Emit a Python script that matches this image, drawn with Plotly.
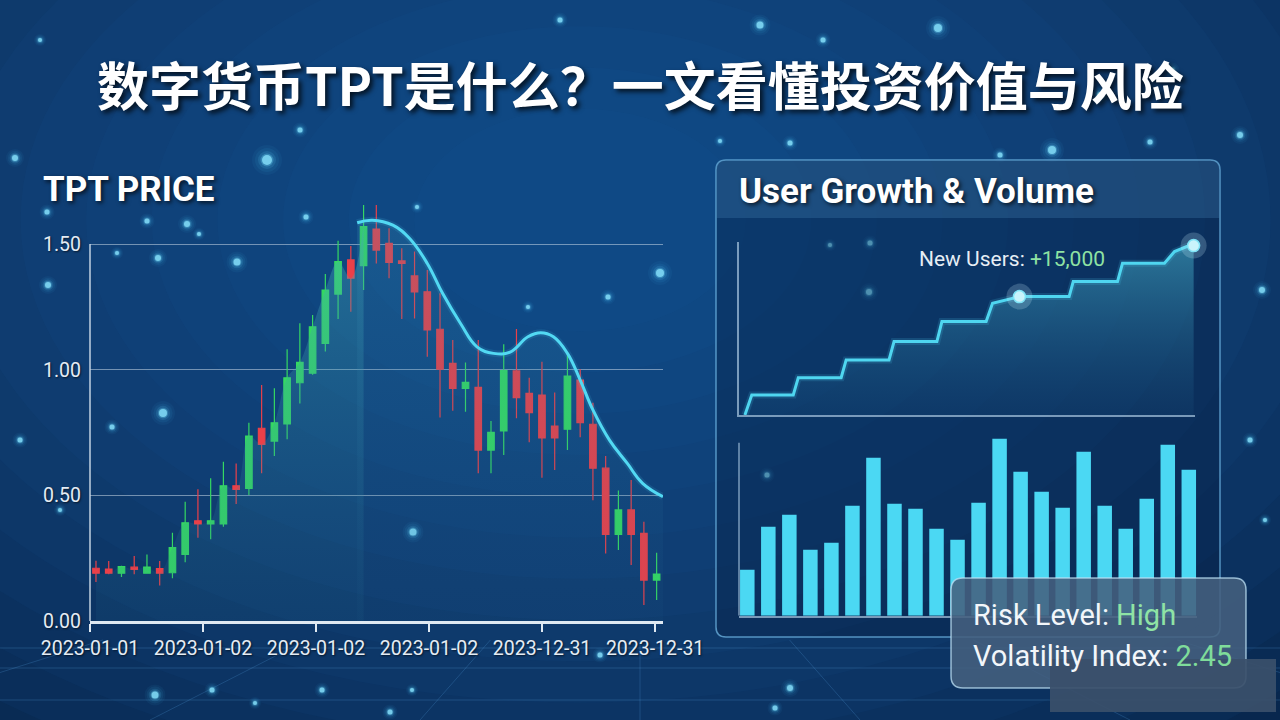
import plotly.graph_objects as go

W, H = 1280, 720

# ---------------- data ----------------
candle_idx = list(range(1, 46))
price_open = [0.210, 0.207, 0.190, 0.214, 0.190, 0.209, 0.192, 0.265, 0.399, 0.386,
              0.386, 0.538, 0.528, 0.767, 0.716, 0.784, 0.948, 0.986, 1.105, 1.301,
              1.437, 1.414, 1.560, 1.503, 1.433, 1.373, 1.310, 1.161, 1.025, 0.926,
              0.930, 0.680, 0.756, 0.995, 0.906, 0.899, 0.776, 0.763, 0.959, 0.783,
              0.608, 0.345, 0.442, 0.349, 0.163]
price_high = [0.240, 0.239, 0.220, 0.259, 0.265, 0.239, 0.351, 0.475, 0.524, 0.568,
              0.634, 0.627, 0.789, 0.939, 0.926, 1.081, 1.185, 1.218, 1.381, 1.513,
              1.492, 1.655, 1.655, 1.563, 1.483, 1.470, 1.397, 1.304, 1.118, 1.029,
              1.118, 0.796, 1.101, 1.162, 0.968, 1.032, 0.909, 1.065, 1.002, 0.869,
              0.657, 0.519, 0.561, 0.395, 0.272]
price_low = [0.155, 0.186, 0.175, 0.186, 0.188, 0.141, 0.170, 0.234, 0.331, 0.325,
             0.375, 0.466, 0.501, 0.588, 0.657, 0.723, 0.866, 0.980, 1.072, 1.202,
             1.231, 1.317, 1.423, 1.364, 1.202, 1.204, 1.052, 0.810, 0.837, 0.833,
             0.588, 0.588, 0.661, 0.807, 0.711, 0.570, 0.601, 0.680, 0.731, 0.481,
             0.269, 0.283, 0.223, 0.064, 0.084]
price_close = [0.190, 0.190, 0.216, 0.205, 0.214, 0.190, 0.292, 0.391, 0.386, 0.399,
               0.538, 0.524, 0.736, 0.703, 0.789, 0.968, 1.029, 1.171, 1.317, 1.430,
               1.364, 1.569, 1.476, 1.427, 1.423, 1.310, 1.158, 1.002, 0.926, 0.950,
               0.680, 0.751, 0.996, 0.889, 0.829, 0.729, 0.729, 0.975, 0.789, 0.608,
               0.345, 0.442, 0.345, 0.163, 0.187]

date_tick_pos = [0.53, 9.40, 18.27, 27.14, 36.01, 44.88]
date_tick_labels = ["2023-01-01", "2023-01-02", "2023-01-02", "2023-01-02",
                    "2023-12-31", "2023-12-31"]
price_ticks = [0.0, 0.5, 1.0, 1.5]

trend_idx = [21.5, 22.7, 24.3, 25.6, 27.0, 28.2, 29.6, 30.9, 32.2, 33.5,
             34.9, 35.9, 36.9, 38.0, 39.0, 40.0, 41.3, 42.7, 43.9, 45.5]
trend_val = [1.585, 1.595, 1.575, 1.523, 1.423, 1.304, 1.185, 1.091, 1.065, 1.070,
             1.131, 1.147, 1.131, 1.065, 0.959, 0.840, 0.720, 0.627, 0.548, 0.495]

user_t = [0.13, 0.28, 1.19, 1.30, 2.24, 2.35, 3.29, 3.40, 4.34, 4.45, 5.42,
          5.56, 6.15, 7.24, 7.33, 8.30, 8.41, 9.33, 9.55, 9.82, 9.97]
users_k = [0.00, 1.77, 1.77, 3.30, 3.30, 4.87, 4.87, 6.49, 6.49, 8.26, 8.26,
           9.88, 10.47, 10.47, 11.80, 11.80, 13.42, 13.42, 14.45, 14.90, 14.98]
user_highlight = [12, 20]

volume_idx = list(range(1, 23))
volume = [4.6, 8.9, 10.1, 6.6, 7.3, 11.0, 15.8, 11.2, 10.7, 8.7, 7.6,
          11.3, 17.7, 14.4, 12.4, 10.8, 16.4, 11.0, 8.7, 11.7, 17.1, 14.6]

# decorative bokeh dots (x px, y px, radius px)
bokeh = [(267, 160, 5), (15, 158, 3), (47, 212, 2.5), (147, 221, 2.5), (187, 224, 3),
         (199, 234, 2), (117, 253, 2), (158, 258, 3), (237, 262, 3.5), (306, 217, 2.5),
         (48, 285, 3), (163, 413, 4), (112, 427, 2.5), (660, 273, 4), (608, 297, 2.5),
         (528, 307, 2), (413, 532, 3.5), (417, 207, 2), (830, 245, 2), (870, 243, 2.5),
         (869, 292, 3), (767, 475, 2.5), (760, 25, 3.5), (823, 40, 2.5), (938, 28, 4),
         (1100, 95, 3), (1172, 70, 2.5), (1240, 135, 3), (1150, 142, 2.5), (1052, 150, 4),
         (1000, 155, 2.5), (790, 143, 2.5), (720, 141, 2), (20, 440, 2.5), (60, 510, 2),
         (1262, 290, 3), (1250, 440, 2.5), (1265, 520, 2), (790, 688, 3), (775, 708, 2.5),
         (155, 695, 3.5), (212, 690, 2.5), (255, 703, 2), (322, 690, 2.5), (412, 690, 2),
         (390, 712, 2.5), (300, 130, 2.5), (560, 20, 2.5), (40, 40, 2), (600, 655, 2.5)]

# ---------------- helpers ----------------
def px(x):
    return x / W


def py(y):
    return 1 - y / H


def rrect(x0, y0, x1, y1, r, bottom_round=True):
    p = f"M{px(x0 + r)},{py(y0)} L{px(x1 - r)},{py(y0)} Q{px(x1)},{py(y0)} {px(x1)},{py(y0 + r)} "
    if bottom_round:
        p += f"L{px(x1)},{py(y1 - r)} Q{px(x1)},{py(y1)} {px(x1 - r)},{py(y1)} "
        p += f"L{px(x0 + r)},{py(y1)} Q{px(x0)},{py(y1)} {px(x0)},{py(y1 - r)} "
    else:
        p += f"L{px(x1)},{py(y1)} L{px(x0)},{py(y1)} "
    p += f"L{px(x0)},{py(y0 + r)} Q{px(x0)},{py(y0)} {px(x0 + r)},{py(y0)} Z"
    return p


shapes = []
# radial glow background
for k in range(16):
    f = 1 - k / 16
    cx, cy = 580, 220
    rx, ry = 100 + 1050 * f, 70 + 660 * f
    shapes.append(dict(type="circle", xref="paper", yref="paper", layer="below",
                       x0=px(cx - rx), x1=px(cx + rx), y0=py(cy + ry), y1=py(cy - ry),
                       fillcolor="rgba(25,100,170,0.07)", line=dict(width=0)))
# perspective floor grid
vx, vy = 640, 470
for xb in [-1400, -900, -500, -150, 150, 420, 640, 860, 1130, 1430, 1780, 2180, 2700]:
    t = (640 - vy) / (720 - vy)
    xs = vx + t * (xb - vx)
    shapes.append(dict(type="line", xref="paper", yref="paper", layer="below",
                       x0=px(xs), y0=py(640), x1=px(xb), y1=py(720),
                       line=dict(color="rgba(90,170,230,0.22)", width=1)))
for yh in [648, 668, 700]:
    shapes.append(dict(type="line", xref="paper", yref="paper", layer="below",
                       x0=0, y0=py(yh), x1=1, y1=py(yh),
                       line=dict(color="rgba(90,170,230,0.24)", width=1.2)))
# bokeh dots
for (bx, by, br) in bokeh:
    for mult, col in [(3.0, "rgba(70,190,240,0.06)"), (2.4, "rgba(70,190,240,0.08)"),
                      (1.8, "rgba(90,205,245,0.14)"), (1.3, "rgba(110,215,250,0.30)"),
                      (1.0, "rgba(140,230,255,0.75)")]:
        rr = br * mult
        shapes.append(dict(type="circle", xref="paper", yref="paper", layer="below",
                           x0=px(bx - rr), x1=px(bx + rr), y0=py(by + rr), y1=py(by - rr),
                           fillcolor=col, line=dict(width=0)))
# right panel
shapes.append(dict(type="path", xref="paper", yref="paper", layer="below",
                   path=rrect(716, 160, 1220, 637, 10),
                   fillcolor="rgba(6,30,62,0.35)",
                   line=dict(color="rgba(110,180,225,0.75)", width=1.5)))
shapes.append(dict(type="path", xref="paper", yref="paper", layer="below",
                   path=rrect(716, 160, 1220, 218, 10, bottom_round=False),
                   fillcolor="rgba(70,130,180,0.30)", line=dict(width=0)))
# left axis line of price chart
shapes.append(dict(type="line", xref="paper", yref="y", layer="below",
                   x0=px(90), x1=px(90), y0=0, y1=1.5,
                   line=dict(color="rgba(225,235,245,0.85)", width=1.5)))
# left axis line of volume chart
shapes.append(dict(type="line", xref="paper", yref="y3", layer="below",
                   x0=px(739), x1=px(739), y0=0, y1=17.3,
                   line=dict(color="rgba(170,200,225,0.7)", width=1.5)))
# risk box
shapes.append(dict(type="path", xref="paper", yref="paper", layer="above",
                   path=rrect(951, 578, 1246, 688, 12),
                   fillcolor="rgba(68,96,126,0.88)",
                   line=dict(color="rgba(190,225,245,0.75)", width=1.5)))
shapes.append(dict(type="rect", xref="paper", yref="paper", layer="above",
                   x0=px(1050), x1=px(1276), y0=py(712), y1=py(659),
                   fillcolor="rgba(58,80,106,0.93)", line=dict(width=0)))

# ---------------- traces ----------------
fig = go.Figure()

# area under rising prices
fig.add_trace(go.Scatter(
    x=candle_idx[:22], y=price_close[:22], mode="lines", line=dict(width=0, shape="spline"),
    fill="tozeroy",
    fillgradient=dict(type="vertical", start=0, stop=1.6,
                      colorscale=[[0, "rgba(40,120,150,0.10)"], [1, "rgba(70,175,185,0.40)"]]),
    hoverinfo="skip", showlegend=False, xaxis="x", yaxis="y"))
# area under trend curve
fig.add_trace(go.Scatter(
    x=trend_idx, y=trend_val, mode="lines", line=dict(width=0, shape="spline", smoothing=1.2),
    fill="tozeroy",
    fillgradient=dict(type="vertical", start=0, stop=1.6,
                      colorscale=[[0, "rgba(40,110,150,0.06)"], [1, "rgba(60,150,185,0.22)"]]),
    hoverinfo="skip", showlegend=False, xaxis="x", yaxis="y"))

fig.add_trace(go.Candlestick(
    x=candle_idx, open=price_open, high=price_high, low=price_low, close=price_close,
    increasing=dict(line=dict(color="#35d862", width=1.2), fillcolor="#35d862"),
    decreasing=dict(line=dict(color="#ea4049", width=1.2), fillcolor="#ea4049"),
    whiskerwidth=0, showlegend=False, xaxis="x", yaxis="y"))

# trend curve with faint glow
fig.add_trace(go.Scatter(
    x=trend_idx, y=trend_val, mode="lines",
    line=dict(color="rgba(80,215,245,0.12)", width=7, shape="spline", smoothing=1.2),
    hoverinfo="skip", showlegend=False, xaxis="x", yaxis="y"))
fig.add_trace(go.Scatter(
    x=trend_idx, y=trend_val, mode="lines",
    line=dict(color="#52d9f3", width=3, shape="spline", smoothing=1.2),
    hoverinfo="skip", showlegend=False, xaxis="x", yaxis="y"))

# user growth
fig.add_trace(go.Scatter(
    x=user_t, y=users_k, mode="lines", line=dict(width=0),
    fill="tozeroy",
    fillgradient=dict(type="vertical", start=0, stop=15,
                      colorscale=[[0, "rgba(35,100,145,0.12)"], [1, "rgba(70,175,200,0.55)"]]),
    hoverinfo="skip", showlegend=False, xaxis="x2", yaxis="y2"))
fig.add_trace(go.Scatter(
    x=user_t, y=users_k, mode="lines",
    line=dict(color="rgba(80,215,245,0.15)", width=7),
    hoverinfo="skip", showlegend=False, xaxis="x2", yaxis="y2"))
fig.add_trace(go.Scatter(
    x=user_t, y=users_k, mode="lines",
    line=dict(color="#4fd6f0", width=3),
    hoverinfo="skip", showlegend=False, xaxis="x2", yaxis="y2"))
hx = [user_t[i] for i in user_highlight]
hy = [users_k[i] for i in user_highlight]
fig.add_trace(go.Scatter(
    x=hx, y=hy, mode="markers",
    marker=dict(size=26, color="rgba(200,235,250,0.22)", line=dict(width=0)),
    hoverinfo="skip", showlegend=False, cliponaxis=False, xaxis="x2", yaxis="y2"))
fig.add_trace(go.Scatter(
    x=hx, y=hy, mode="markers",
    marker=dict(size=12, color="#c9f3fb", line=dict(color="#7fe3f6", width=1.5)),
    hoverinfo="skip", showlegend=False, cliponaxis=False, xaxis="x2", yaxis="y2"))

# volume bars
fig.add_trace(go.Bar(
    x=volume_idx, y=volume, marker=dict(color="#4bd8f3", line=dict(width=0)),
    hoverinfo="skip", showlegend=False, xaxis="x3", yaxis="y3"))

# ---------------- layout ----------------
tick_font = dict(family="Roboto", size=19.5, color="#e4ecf4", shadow="1px 1px 2px rgba(0,0,0,0.6)")
axis_line = "rgba(170,200,225,0.7)"

fig.update_layout(
    width=W, height=H, autosize=False,
    margin=dict(l=0, r=0, t=0, b=0, autoexpand=False),
    paper_bgcolor="#061f40", plot_bgcolor="rgba(0,0,0,0)",
    showlegend=False, boxgap=0.27, bargap=0.31,
    shapes=shapes,
    xaxis=dict(domain=[px(90), px(663)], range=[0.53, 45.5], anchor="y", automargin=False,
               tickmode="array", tickvals=date_tick_pos, ticktext=date_tick_labels,
               ticks="outside", ticklen=8, tickwidth=1.5, tickcolor="#dfe9f2",
               showline=True, linecolor="#dfe9f2", linewidth=2.5,
               showgrid=False, zeroline=False, tickfont=tick_font,
               rangeslider=dict(visible=False), fixedrange=True),
    yaxis=dict(domain=[py(621), py(193.8)], range=[0, 1.7], anchor="x", automargin=False,
               tickmode="array", tickvals=price_ticks, tickformat=".2f",
               showgrid=True, gridcolor="rgba(200,215,230,0.55)", gridwidth=1,
               zeroline=False, showline=False, ticks="", ticklabelstandoff=8,
               tickfont=tick_font, fixedrange=True),
    xaxis2=dict(domain=[px(739), px(1195)], range=[0, 10], anchor="y2", automargin=False,
                showline=True, linecolor=axis_line, linewidth=1.5,
                showgrid=False, zeroline=False, showticklabels=False, ticks=""),
    yaxis2=dict(domain=[py(415), py(242)], range=[0, 15.3], anchor="x2", automargin=False,
                showline=True, linecolor=axis_line, linewidth=1.5,
                showgrid=False, zeroline=False, showticklabels=False, ticks=""),
    xaxis3=dict(domain=[px(739), px(1197)], range=[0.605, 22.39], anchor="y3", automargin=False,
                showline=True, linecolor=axis_line, linewidth=1.5,
                showgrid=False, zeroline=False, showticklabels=False, ticks=""),
    yaxis3=dict(domain=[py(615.7), py(435.7)], range=[0, 18], anchor="x3", automargin=False,
                showline=False, showgrid=False, zeroline=False,
                showticklabels=False, ticks=""),
)

annotations = [
    dict(text="数字货币TPT是什么？一文看懂投资价值与风险", x=0.5, y=py(83),
         xanchor="center", yanchor="middle",
         font=dict(family="Noto Sans CJK SC", size=52, color="#ffffff", weight="bold",
                   shadow="3px 3px 5px rgba(0,0,0,0.75)")),
    dict(text="TPT PRICE", x=px(41), y=py(190), xanchor="left", yanchor="middle",
         font=dict(family="Roboto", size=35, color="#ffffff", weight="bold",
                   shadow="2px 2px 4px rgba(0,0,0,0.7)")),
    dict(text="User Growth & Volume", x=px(737), y=py(192), xanchor="left", yanchor="middle",
         font=dict(family="Roboto", size=35, color="#ffffff", weight="bold",
                   shadow="2px 2px 4px rgba(0,0,0,0.7)")),
    dict(text="New Users: <span style='color:#8fe3a3'>+15,000</span>",
         x=px(1012), y=py(259), xanchor="center", yanchor="middle",
         font=dict(family="Roboto", size=21, color="#e6eef5")),
    dict(text="Risk Level: <span style='color:#8fe3a5'>High</span>",
         x=px(971), y=py(615), xanchor="left", yanchor="middle",
         font=dict(family="Roboto", size=29, color="#f2f6fa")),
    dict(text="Volatility Index: <span style='color:#7fdc9a'>2.45</span>",
         x=px(971), y=py(656), xanchor="left", yanchor="middle",
         font=dict(family="Roboto", size=29, color="#f2f6fa")),
]
for a in annotations:
    a.update(xref="paper", yref="paper", showarrow=False)
fig.update_layout(annotations=annotations)

fig.write_html("out.html", config={"displayModeBar": False},
               post_script="document.body.style.margin='0';"
                           "document.body.style.background='#061f40';")
